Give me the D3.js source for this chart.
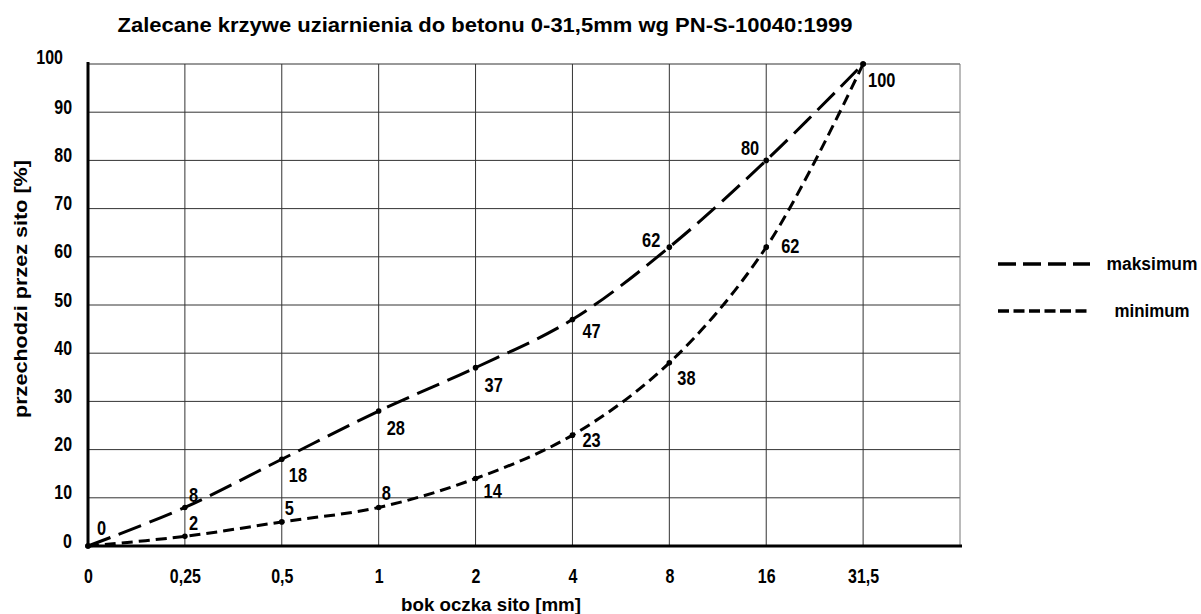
<!DOCTYPE html>
<html>
<head>
<meta charset="utf-8">
<script src="https://cdn.jsdelivr.net/npm/d3@7"></script>
<style>
  html, body { margin: 0; padding: 0; background: #fff; }
  svg { display: block; }
</style>
</head>
<body>
<div id="chart"></div>
<script>
// sieve sizes (log-like spacing, one spare column on the right)
const sieves = ['0', '0,25', '0,5', '1', '2', '4', '8', '16', '31,5']
const maxValues = [0, 8, 18, 28, 37, 47, 62, 80, 100]
const minValues = [0, 2, 5, 8, 14, 23, 38, 62, 100]
const yTicks = [0, 10, 20, 30, 40, 50, 60, 70, 80, 90, 100]

// label offsets next to each point [dx, dy, anchor]
const maxLabelPos = [
  [9, -11, 'start'], [4, -5, 'start'], [7, 23, 'start'], [8, 24, 'start'], [9, 24, 'start'],
  [10, 19, 'start'], [-9, 0, 'end'], [-7, -5, 'end'], [5, 23, 'start']
]
const minLabelPos = [
  null, [4, -6, 'start'], [3, -7, 'start'], [3, -7, 'start'], [8, 19, 'start'],
  [10, 12, 'start'], [8, 22, 'start'], [15, 6, 'start'], null
]

const width = 1201
const height = 614
const font = '"Liberation Sans", Arial, sans-serif'

// squeeze text horizontally, the drawing uses a narrow CAD font
const condense = (sel, k) => {
  sel.each(function() {
    const w = this.getComputedTextLength()
    d3.select(this)
      .attr('textLength', w * k)
      .attr('lengthAdjust', 'spacingAndGlyphs')
  })
}

const svg = d3.select('#chart')
  .append('svg')
  .attr('width', width)
  .attr('height', height)

const x = d3.scaleLinear().domain([0, sieves.length]).range([88, 960])
const y = d3.scaleLinear().domain([0, 100]).range([546, 64])

// Title
svg.append('text')
  .attr('x', 485)
  .attr('y', 32)
  .attr('text-anchor', 'middle')
  .attr('font-family', font)
  .attr('font-size', '20px')
  .attr('font-weight', 'bold')
  .attr('textLength', 735)
  .attr('lengthAdjust', 'spacingAndGlyphs')
  .text('Zalecane krzywe uziarnienia do betonu 0-31,5mm wg PN-S-10040:1999')

// Grid
const grid = svg.append('g').attr('class', 'grid')
grid.selectAll('line.h')
  .data(yTicks.slice(1))
  .join('line')
  .attr('class', 'h')
  .attr('x1', x(0)).attr('x2', x(sieves.length))
  .attr('y1', d => y(d)).attr('y2', d => y(d))
  .attr('stroke', '#333')
  .attr('stroke-width', 1)

grid.selectAll('line.v')
  .data(d3.range(1, sieves.length + 1))
  .join('line')
  .attr('class', 'v')
  .attr('x1', d => x(d)).attr('x2', d => x(d))
  .attr('y1', y(100)).attr('y2', y(0))
  .attr('stroke', d => d === sieves.length ? '#777' : '#333')
  .attr('stroke-width', 1)

// Axes
const xAxis = d3.axisBottom(x)
  .tickValues(d3.range(sieves.length))
  .tickFormat(i => sieves[i])
  .tickSize(0)
  .tickPadding(22)

const yAxis = d3.axisLeft(y)
  .tickValues(yTicks)
  .tickSize(0)
  .tickPadding(17)

const gx = svg.append('g')
  .attr('transform', `translate(0,${y(0)})`)
  .call(xAxis)
gx.select('.domain').remove()
gx.selectAll('text')
  .attr('font-family', font)
  .attr('font-size', '21px')
  .attr('font-weight', 'bold')
  .attr('fill', '#000')
  .attr('dy', '0.71em')
  .call(condense, 0.76)

const gy = svg.append('g')
  .attr('transform', `translate(${x(0)},0)`)
  .call(yAxis)
gy.select('.domain').remove()
gy.selectAll('text')
  .attr('font-family', font)
  .attr('font-size', '21px')
  .attr('font-weight', 'bold')
  .attr('fill', '#000')
  .attr('dy', '0')
  .attr('x', d => d === 100 ? -25 : -16)
  .attr('y', d => d === 100 ? -1 : 1)
  .call(condense, 0.76)

svg.append('line')
  .attr('x1', x(0)).attr('x2', x(0))
  .attr('y1', y(100) - 2).attr('y2', y(0) + 1.5)
  .attr('stroke', '#000').attr('stroke-width', 3)
svg.append('line')
  .attr('x1', x(0) - 1.5).attr('x2', x(sieves.length) + 2)
  .attr('y1', y(0)).attr('y2', y(0))
  .attr('stroke', '#000').attr('stroke-width', 3)

// Axis titles
svg.append('text')
  .attr('x', 491)
  .attr('y', 611)
  .attr('text-anchor', 'middle')
  .attr('font-family', font)
  .attr('font-size', '18px')
  .attr('font-weight', 'bold')
  .attr('textLength', 180)
  .attr('lengthAdjust', 'spacingAndGlyphs')
  .text('bok oczka sito [mm]')

svg.append('text')
  .attr('transform', 'translate(27,289) rotate(-90)')
  .attr('text-anchor', 'middle')
  .attr('font-family', font)
  .attr('font-size', '18px')
  .attr('font-weight', 'bold')
  .attr('textLength', 258)
  .attr('lengthAdjust', 'spacingAndGlyphs')
  .text('przechodzi przez sito [%]')

// Curves
const line = d3.line()
  .x((d, i) => x(i))
  .y(d => y(d))
  .curve(d3.curveCatmullRom.alpha(0.5))

const series = [
  { name: 'maksimum', values: maxValues, dash: '24,9', legendDash: '18,7', labels: maxLabelPos },
  { name: 'minimum', values: minValues, dash: '11,6', legendDash: '11,4.5', labels: minLabelPos }
]

series.forEach(s => {
  svg.append('path')
    .datum(s.values)
    .attr('d', line)
    .attr('fill', 'none')
    .attr('stroke', '#000')
    .attr('stroke-width', 3)
    .attr('stroke-dasharray', s.dash)

  svg.append('g').selectAll('circle')
    .data(s.values)
    .join('circle')
    .attr('cx', (d, i) => x(i))
    .attr('cy', d => y(d))
    .attr('r', 2.8)
    .attr('fill', '#000')

  svg.append('g').selectAll('text')
    .data(s.values.map((v, i) => ({ v, i, pos: s.labels[i] })).filter(d => d.pos))
    .join('text')
    .attr('x', d => x(d.i) + d.pos[0])
    .attr('y', d => y(d.v) + d.pos[1])
    .attr('text-anchor', d => d.pos[2])
    .attr('font-family', font)
    .attr('font-size', '21px')
    .attr('font-weight', 'bold')
    .text(d => d.v)
    .call(condense, 0.78)
})

// Legend
const legend = svg.append('g')
  .selectAll('g')
  .data(series)
  .join('g')
  .attr('transform', (d, i) => `translate(0,${264 + i * 47})`)

legend.append('line')
  .attr('x1', 998).attr('x2', 1090)
  .attr('y1', 0).attr('y2', 0)
  .attr('stroke', '#000')
  .attr('stroke-width', 3.5)
  .attr('stroke-dasharray', d => d.legendDash)

legend.append('text')
  .attr('x', 1152)
  .attr('y', 0)
  .attr('dy', '0.32em')
  .attr('text-anchor', 'middle')
  .attr('font-family', font)
  .attr('font-size', '18px')
  .attr('font-weight', 'bold')
  .attr('textLength', (d, i) => i === 0 ? 91 : 75)
  .attr('lengthAdjust', 'spacingAndGlyphs')
  .text(d => d.name)
</script>
</body>
</html>
